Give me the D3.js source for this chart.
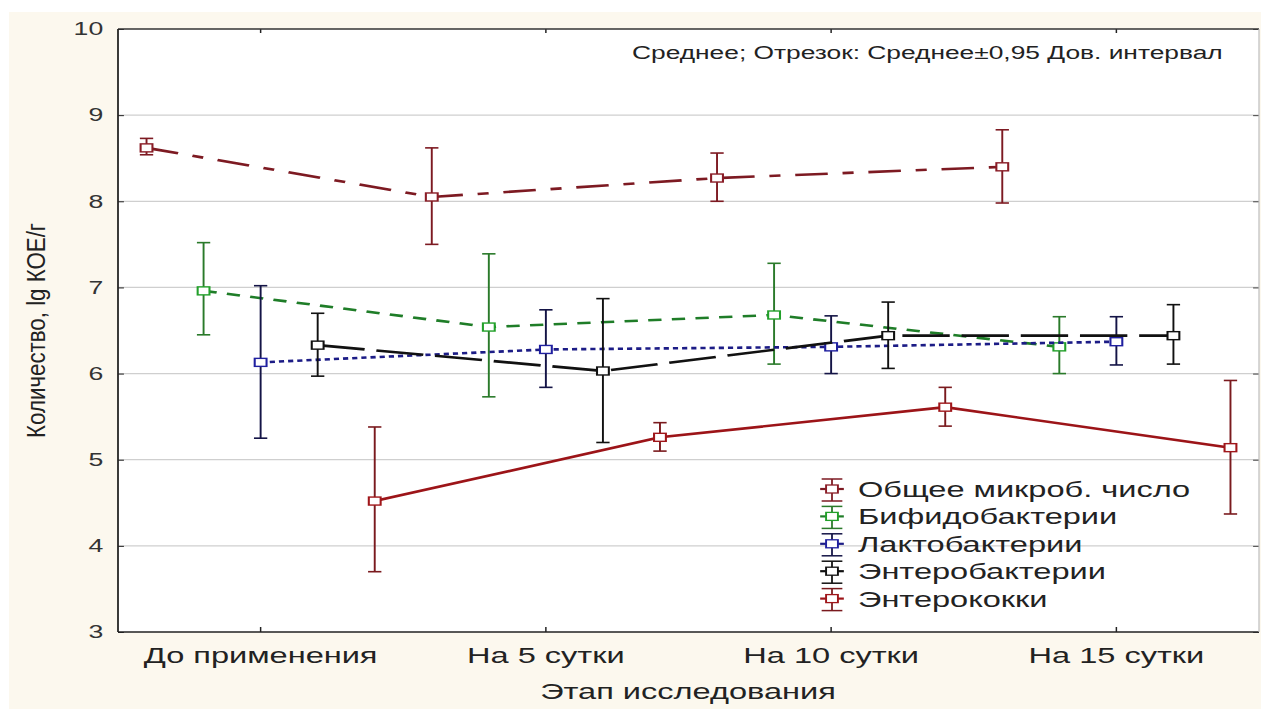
<!DOCTYPE html>
<html>
<head>
<meta charset="utf-8">
<script src="https://cdn.jsdelivr.net/npm/d3@7"></script>
<style>
  html, body { margin: 0; padding: 0; background: #ffffff; }
  svg { display: block; }
  text { font-family: "Liberation Sans", Arial, sans-serif; }
</style>
</head>
<body>
<script>
// Study stages (x categories)
const categories = ["До применения", "На 5 сутки", "На 10 сутки", "На 15 сутки"];

// Series names (legend order)
const seriesNames = [
  "Общее микроб. число",
  "Бифидобактерии",
  "Лактобактерии",
  "Энтеробактерии",
  "Энтерококки"
];

// Means, lg КОЕ/г
const meanTotal = [8.62, 8.05, 8.27, 8.40];
const meanBifido = [6.96, 6.54, 6.68, 6.31];
const meanLacto = [6.13, 6.28, 6.31, 6.37];
const meanEntero = [6.33, 6.03, 6.44, 6.44];
const meanEntcoc = [4.52, 5.26, 5.61, 5.14];

// 95% confidence interval bounds
const loTotal = [8.54, 7.50, 8.00, 7.98];
const hiTotal = [8.73, 8.62, 8.56, 8.83];
const loBifido = [6.45, 5.73, 6.11, 6.00];
const hiBifido = [7.52, 7.39, 7.28, 6.66];
const loLacto = [5.25, 5.84, 6.00, 6.10];
const hiLacto = [7.02, 6.74, 6.67, 6.66];
const loEntero = [5.97, 5.20, 6.06, 6.11];
const hiEntero = [6.70, 6.87, 6.83, 6.80];
const loEntcoc = [3.70, 5.10, 5.39, 4.37];
const hiEntcoc = [5.38, 5.43, 5.84, 5.92];

// Y axis ticks
const yTicks = [3, 4, 5, 6, 7, 8, 9, 10];
const gridTicks = [4, 5, 6, 7, 8, 9];

const yTitle = "Количество, lg КОЕ/г";
const xTitle = "Этап исследования";
const noteText = "Среднее; Отрезок: Среднее±0,95 Дов. интервал";

// Per-series styling
const styles = [
  { line: "#7d1a22", bar: "#7d1a22", mark: "#8a1c26", dash: "22,10,7.5,10" },
  { line: "#1f7d28", bar: "#2a7a2a", mark: "#22a02a", dash: "9,7" },
  { line: "#1c1c86", bar: "#141446", mark: "#2020a0", dash: "3.5,2.7" },
  { line: "#111111", bar: "#111111", mark: "#111111", dash: "32,8" },
  { line: "#9c1418", bar: "#7a1a1e", mark: "#a0161a", dash: null }
];

const series = [
  { name: seriesNames[0], mean: meanTotal, lo: loTotal, hi: hiTotal },
  { name: seriesNames[1], mean: meanBifido, lo: loBifido, hi: hiBifido },
  { name: seriesNames[2], mean: meanLacto, lo: loLacto, hi: hiLacto },
  { name: seriesNames[3], mean: meanEntero, lo: loEntero, hi: hiEntero },
  { name: seriesNames[4], mean: meanEntcoc, lo: loEntcoc, hi: hiEntcoc }
];

// The drawing is laid out on a narrower canvas and stretched horizontally.
const SX = 1.48;
const WIDTH = 1261, HEIGHT = 709;
const W = WIDTH / SX;

const pLeft = 118 / SX, pRight = 1259 / SX, pTop = 29, pBottom = 632;

const svg = d3.select("body").append("svg")
  .attr("width", WIDTH).attr("height", HEIGHT)
  .attr("viewBox", `0 0 ${W} ${HEIGHT}`)
  .attr("preserveAspectRatio", "none");

svg.append("rect").attr("width", W).attr("height", HEIGHT).attr("fill", "#ffffff");
svg.append("rect").attr("x", 9 / SX).attr("y", 12)
  .attr("width", W - 9 / SX).attr("height", HEIGHT - 12).attr("fill", "#fcf8ee");
svg.append("rect").attr("x", pLeft).attr("y", pTop)
  .attr("width", pRight - pLeft).attr("height", pBottom - pTop).attr("fill", "#ffffff");

const y = d3.scaleLinear().domain([3, 10]).range([pBottom, pTop]);
const x = d3.scaleBand().domain(categories).range([pLeft, pRight]).padding(0);
const xs = d3.scaleBand().domain(seriesNames).range([0, x.bandwidth()]).padding(0);
const px = (ci, si) => x(categories[ci]) + xs(seriesNames[si]) + xs.bandwidth() / 2;

// Grid
svg.append("g").selectAll("line").data(gridTicks).join("line")
  .attr("x1", pLeft).attr("x2", pRight)
  .attr("y1", d => y(d)).attr("y2", d => y(d))
  .attr("stroke", "#cfcfcf").attr("stroke-width", 1.2);

// Axes
const gLeft = svg.append("g").attr("transform", `translate(${pLeft},0)`)
  .call(d3.axisLeft(y).tickValues(yTicks).tickFormat(d3.format("d"))
    .tickSizeInner(-4).tickSizeOuter(0).tickPadding(10));
gLeft.select(".domain").remove();
gLeft.selectAll(".tick line").attr("stroke", "#222");
gLeft.selectAll("text").attr("font-size", 18).attr("fill", "#333");

const gRight = svg.append("g").attr("transform", `translate(${pRight},0)`)
  .call(d3.axisRight(y).tickValues(yTicks).tickSizeInner(-4).tickSizeOuter(0).tickFormat(""));
gRight.select(".domain").remove();
gRight.selectAll(".tick line").attr("stroke", "#444");

const gBottom = svg.append("g").attr("transform", `translate(0,${pBottom})`)
  .call(d3.axisBottom(x).tickSizeInner(-5).tickSizeOuter(0).tickPadding(15));
gBottom.select(".domain").remove();
gBottom.selectAll(".tick line").attr("stroke", "#222");
gBottom.selectAll("text").attr("font-size", 22).attr("fill", "#222");

const gTop = svg.append("g").attr("transform", `translate(0,${pTop})`)
  .call(d3.axisTop(x).tickSizeInner(-4).tickSizeOuter(0).tickFormat(""));
gTop.select(".domain").remove();
gTop.selectAll(".tick line").attr("stroke", "#222");

// Frame
svg.append("line").attr("x1", pLeft).attr("x2", pRight).attr("y1", pTop).attr("y2", pTop)
  .attr("stroke", "#333").attr("stroke-width", 1.3);
svg.append("line").attr("x1", pLeft).attr("x2", pRight).attr("y1", pBottom).attr("y2", pBottom)
  .attr("stroke", "#222").attr("stroke-width", 1.5);
svg.append("line").attr("x1", pLeft).attr("x2", pLeft).attr("y1", pTop).attr("y2", pBottom)
  .attr("stroke", "#222").attr("stroke-width", 1.2);
svg.append("line").attr("x1", pRight).attr("x2", pRight).attr("y1", pTop).attr("y2", pBottom)
  .attr("stroke", "#bbbbbb").attr("stroke-width", 0.8);

// Series
const line = d3.line().x(d => d.x).y(d => d.y);
const capHalf = 4.5, markSize = 8;

series.forEach((s, si) => {
  const st = styles[si];
  const pts = s.mean.map((m, ci) => ({ x: px(ci, si), y: y(m), lo: y(s.lo[ci]), hi: y(s.hi[ci]) }));
  const g = svg.append("g");
  g.append("path").datum(pts).attr("d", line)
    .attr("fill", "none").attr("stroke", st.line).attr("stroke-width", 2.6)
    .attr("stroke-dasharray", st.dash);
  const eb = g.selectAll(".eb").data(pts).join("g").attr("stroke", st.bar);
  eb.append("line").attr("x1", d => d.x).attr("x2", d => d.x)
    .attr("y1", d => d.hi).attr("y2", d => d.lo).attr("stroke-width", 1.3);
  eb.append("line").attr("x1", d => d.x - capHalf).attr("x2", d => d.x + capHalf)
    .attr("y1", d => d.hi).attr("y2", d => d.hi).attr("stroke-width", 1.6);
  eb.append("line").attr("x1", d => d.x - capHalf).attr("x2", d => d.x + capHalf)
    .attr("y1", d => d.lo).attr("y2", d => d.lo).attr("stroke-width", 1.6);
  g.selectAll(".mk").data(pts).join("rect")
    .attr("x", d => d.x - markSize / 2).attr("y", d => d.y - markSize / 2)
    .attr("width", markSize).attr("height", markSize)
    .attr("fill", "#ffffff").attr("stroke", st.mark).attr("stroke-width", 1.4);
});

// Legend
const lgX = 832 / SX, lgTextX = 858 / SX, lgY0 = 497, lgStep = 27.4;
const lg = svg.append("g");
seriesNames.forEach((name, si) => {
  const st = styles[si];
  const base = lgY0 + si * lgStep;
  const cy = base - 8;
  const g = lg.append("g");
  g.append("line").attr("x1", lgX).attr("x2", lgX).attr("y1", base - 18).attr("y2", base + 4)
    .attr("stroke", st.bar).attr("stroke-width", 1.2);
  g.append("line").attr("x1", lgX - 7).attr("x2", lgX + 7).attr("y1", base - 18).attr("y2", base - 18)
    .attr("stroke", st.bar).attr("stroke-width", 1.5);
  g.append("line").attr("x1", lgX - 7).attr("x2", lgX + 7).attr("y1", base + 4).attr("y2", base + 4)
    .attr("stroke", st.bar).attr("stroke-width", 1.5);
  g.append("line").attr("x1", lgX - 8).attr("x2", lgX + 8).attr("y1", cy).attr("y2", cy)
    .attr("stroke", st.line).attr("stroke-width", 2.2);
  g.append("rect").attr("x", lgX - 4).attr("y", cy - 4).attr("width", 8).attr("height", 8)
    .attr("fill", "#ffffff").attr("stroke", st.mark).attr("stroke-width", 1.3);
  g.append("text").attr("x", lgTextX).attr("y", base)
    .attr("font-size", 22).attr("fill", "#222").text(name);
});

// Note
svg.append("text").attr("x", 632 / SX).attr("y", 59)
  .attr("font-size", 17.8).attr("fill", "#222").text(noteText);

// Axis titles
svg.append("text").attr("x", 688 / SX).attr("y", 699)
  .attr("text-anchor", "middle").attr("font-size", 22).attr("fill", "#222").text(xTitle);

// Vertical title, centred on the plot height
svg.append("text")
  .attr("transform", `translate(${45 / SX},${(pTop + pBottom) / 2}) rotate(-90)`)
  .attr("text-anchor", "middle")
  .attr("font-size", 17.5)
  .attr("textLength", 215)
  .attr("lengthAdjust", "spacingAndGlyphs")
  .attr("fill", "#222").text(yTitle);
</script>
</body>
</html>
